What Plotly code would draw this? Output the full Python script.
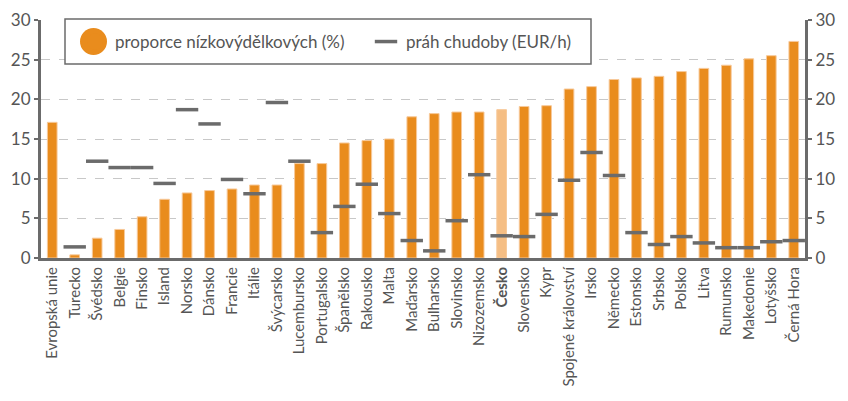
import plotly.graph_objects as go

countries = ["Evropská unie", "Turecko", "Švédsko", "Belgie", "Finsko", "Island", "Norsko", "Dánsko",
             "Francie", "Itálie", "Švýcarsko", "Lucembursko", "Portugalsko", "Španělsko", "Rakousko",
             "Malta", "Maďarsko", "Bulharsko", "Slovinsko", "Nizozemsko", "Česko", "Slovensko", "Kypr",
             "Spojené království", "Irsko", "Německo", "Estonsko", "Srbsko", "Polsko", "Litva",
             "Rumunsko", "Makedonie", "Lotyšsko", "Černá Hora"]
low_wage_share = [17.1, 0.4, 2.5, 3.6, 5.2, 7.4, 8.2, 8.5, 8.7, 9.2, 9.2, 11.9, 11.9, 14.5, 14.8,
                  15.0, 17.8, 18.2, 18.4, 18.4, 18.7, 19.1, 19.2, 21.3, 21.6, 22.5, 22.7, 22.9,
                  23.5, 23.9, 24.3, 25.1, 25.5, 27.3]
poverty_threshold = [None, 1.4, 12.2, 11.4, 11.4, 9.4, 18.7, 16.9, 9.9, 8.1, 19.6, 12.2, 3.2, 6.5, 9.3,
                     5.6, 2.2, 0.9, 4.7, 10.5, 2.8, 2.7, 5.5, 9.8, 13.3, 10.4, 3.2, 1.7, 2.7, 1.9,
                     1.3, 1.3, 2.05, 2.2]
y_ticks = [0, 5, 10, 15, 20, 25, 30]

ORANGE = "#E98C1D"
LIGHT = "#F5BE84"
GRAY = "#6b6b6b"
TEXT = "#555555"
FONT = "Lato"

W, H = 848, 401
ML, MR, MT, MB = 41, 43, 20, 143
PW, PH = W - ML - MR, H - MT - MB


def px_x(p):
    return (p - ML) / PW


def px_y(p):
    return (H - MB - p) / PH


bar_colors = [LIGHT if c == "Česko" else ORANGE for c in countries]
tick_text = ["<b>Česko</b>" if c == "Česko" else c for c in countries]

fig = go.Figure()
fig.add_trace(go.Bar(
    x=countries, y=low_wage_share, marker=dict(color=bar_colors, line=dict(color="#F7C99A", width=1)),
    showlegend=False, name="proporce nízkovýdělkových (%)"))
# legend proxy (circle drawn larger as a shape below)
fig.add_trace(go.Scatter(x=[None], y=[None], mode="markers",
                         marker=dict(symbol="circle", color=ORANGE, size=16),
                         name="proporce nízkovýdělkových (%)"))
fig.add_trace(go.Scatter(
    x=countries, y=poverty_threshold, mode="markers",
    marker=dict(symbol="line-ew", size=16, line=dict(color=GRAY, width=3.5), color=GRAY),
    name="práh chudoby (EUR/h)", yaxis="y2"))

shapes = [
    dict(type="rect", xref="paper", yref="paper", layer="above",
         x0=px_x(65), x1=px_x(591), y0=px_y(64), y1=px_y(19),
         line=dict(color=GRAY, width=1.5), fillcolor="white"),
    dict(type="circle", xref="paper", yref="paper", layer="above",
         x0=px_x(80), x1=px_x(107), y0=px_y(55), y1=px_y(28),
         line=dict(width=0), fillcolor=ORANGE),
]

fig.update_layout(
    width=W, height=H,
    margin=dict(l=ML, r=MR, t=MT, b=MB),
    paper_bgcolor="white", plot_bgcolor="white",
    bargap=0.57,
    font=dict(family=FONT, color=TEXT),
    showlegend=True,
    shapes=shapes,
    legend=dict(orientation="h", x=px_x(75), y=px_y(24), xanchor="left", yanchor="top",
                borderwidth=0, bgcolor="rgba(0,0,0,0)",
                font=dict(size=17, color=TEXT, family=FONT),
                itemwidth=30, entrywidth=246, tracegroupgap=0),
    xaxis=dict(tickmode="array", tickvals=countries, ticktext=tick_text, tickangle=-90,
               tickfont=dict(size=15, color=TEXT, family=FONT), automargin=False,
               showline=True, linecolor=GRAY, linewidth=3, ticks="", showgrid=False,
               range=[-0.5, len(countries) - 0.5]),
    yaxis=dict(range=[0, 30], tickvals=y_ticks, tickfont=dict(size=17, color=TEXT), automargin=False,
               showline=True, linecolor=GRAY, linewidth=3, ticks="outside", ticklen=4,
               tickcolor=GRAY, tickwidth=2,
               showgrid=True, gridcolor="#c8c8c8", griddash="dash", gridwidth=1, zeroline=False),
    yaxis2=dict(range=[0, 30], tickvals=y_ticks, overlaying="y", side="right", automargin=False,
                tickfont=dict(size=17, color=TEXT),
                showline=True, linecolor=GRAY, linewidth=3, ticks="outside", ticklen=4,
                tickcolor=GRAY, tickwidth=2, showgrid=False, zeroline=False),
)

fig.write_html("out.html", config={"displayModeBar": False},
               post_script="document.body.style.margin='0';document.body.style.overflow='hidden';")
